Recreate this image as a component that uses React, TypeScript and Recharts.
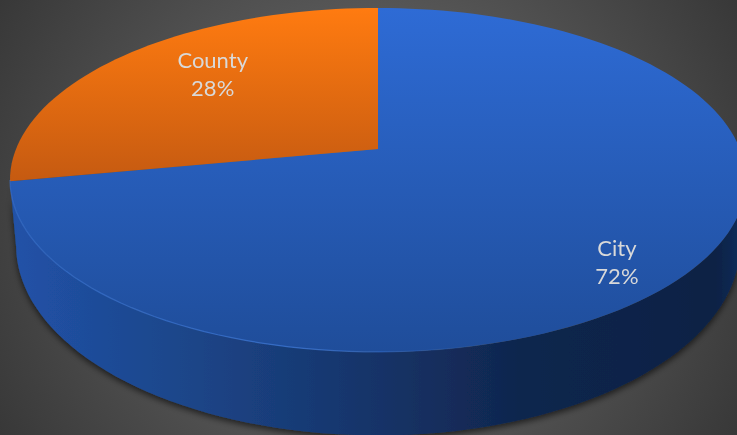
import { PieChart, Pie } from 'recharts'

const categories = ['City', 'County']
const shares = [72, 28]

const data = categories.map((name, i) => ({ name, value: shares[i] }))

const WIDTH = 737
const HEIGHT = 435
const CX = 378
const CY = 149
const RADIUS = 362

// the disc is tilted: far edge is squeezed, near edge is stretched
const TILT = 0.18
const TOP_FACE = { cy: CY, rx: RADIUS, ry: 166.4 }
const BOTTOM_FACE = { cy: 211, rx: 356, ry: 184 }
const SILHOUETTE = (Math.asin(TILT) * 180) / Math.PI

const LABEL_SPOT: Record<string, { r: number; dx: number; dy: number }> = {
  City: { r: 0.78, dx: 0, dy: 22 },
  County: { r: 0.64, dx: 1, dy: -12 },
}

const project = (angle: number, r: number, face: typeof TOP_FACE, cx: number) => {
  const a = (angle * Math.PI) / 180
  const u = r * Math.cos(a)
  const v = r * Math.sin(a)
  const w = 1 + TILT * v
  return [cx + (face.rx * u) / w, face.cy - (face.ry * v) / w]
}

const arc = (from: number, to: number, face: typeof TOP_FACE, cx: number) => {
  const pts: string[] = []
  const steps = Math.max(2, Math.ceil(Math.abs(to - from) / 2))
  for (let i = 0; i <= steps; i++) {
    const [x, y] = project(from + ((to - from) * i) / steps, 1, face, cx)
    pts.push(`${x.toFixed(2)} ${y.toFixed(2)}`)
  }
  return pts
}

const TiltedSector = (props: any) => {
  const { cx, startAngle, endAngle, index } = props
  const rimFrom = Math.min(startAngle, -SILHOUETTE)
  const rimTo = Math.max(endAngle, -180 + SILHOUETTE)
  const hasWall = rimFrom > rimTo
  const top = arc(startAngle, endAngle, TOP_FACE, cx)
  return (
    <g>
      {hasWall && (
        <path
          d={`M${arc(rimFrom, rimTo, TOP_FACE, cx).join('L')}L${arc(rimTo, rimFrom, BOTTOM_FACE, cx).join('L')}Z`}
          fill="url(#wallBlue)"
          filter="url(#wallShadow)"
        />
      )}
      <path
        d={`M${cx} ${CY}L${top.join('L')}Z`}
        fill={index === 0 ? 'url(#faceBlue)' : 'url(#faceOrange)'}
      />
      {hasWall && (
        <path d={`M${arc(rimFrom, rimTo, TOP_FACE, cx).join('L')}`} fill="none" stroke="url(#rimLight)" strokeWidth={1.2} />
      )}
    </g>
  )
}

const renderLabel = (props: any) => {
  const { cx, midAngle, name, percent } = props
  const spot = LABEL_SPOT[name]
  const [px, py] = project(midAngle, spot.r, TOP_FACE, cx)
  const x = px + spot.dx
  return (
    <text x={x} y={py + spot.dy} textAnchor="middle" fill="#d9d9d9" fontSize={22} fontFamily="Lato, 'Open Sans', sans-serif">
      <tspan x={x} dy={-6}>{name}</tspan>
      <tspan x={x} dy={28}>{`${Math.round(percent * 100)}%`}</tspan>
    </text>
  )
}

export default function App() {
  return (
    <div
      style={{
        position: 'fixed',
        left: 0,
        top: 0,
        width: WIDTH,
        height: HEIGHT,
        overflow: 'hidden',
        background: 'radial-gradient(circle 428px at 50% 50%, #727272 0%, #383838 100%)',
      }}
    >
      <PieChart width={WIDTH} height={HEIGHT} margin={{ top: 0, right: 0, bottom: 0, left: 0 }}>
        <defs>
          <linearGradient id="faceBlue" gradientUnits="userSpaceOnUse" x1="0" y1="8" x2="0" y2="352">
            <stop offset="0" stopColor="#2e6bd5" />
            <stop offset="1" stopColor="#1f4d9a" />
          </linearGradient>
          <linearGradient id="faceOrange" gradientUnits="userSpaceOnUse" x1="0" y1="8" x2="0" y2="182">
            <stop offset="0" stopColor="#ff7b10" />
            <stop offset="1" stopColor="#c55a11" />
          </linearGradient>
          <linearGradient id="wallBlue" gradientUnits="userSpaceOnUse" x1="10" y1="0" x2="737" y2="0">
            <stop offset="0" stopColor="#2152a8" />
            <stop offset="0.25" stopColor="#1c4588" />
            <stop offset="0.45" stopColor="#17376f" />
            <stop offset="0.7" stopColor="#10264e" />
            <stop offset="0.97" stopColor="#0e2244" />
            <stop offset="1" stopColor="#112a57" />
          </linearGradient>
          <linearGradient id="rimLight" gradientUnits="userSpaceOnUse" x1="10" y1="0" x2="500" y2="0">
            <stop offset="0" stopColor="#3b7ae0" stopOpacity={0.5} />
            <stop offset="0.6" stopColor="#3b7ae0" stopOpacity={0.7} />
            <stop offset="1" stopColor="#3b7ae0" stopOpacity={0} />
          </linearGradient>
          <filter id="wallShadow" x="-5%" y="-5%" width="110%" height="115%">
            <feDropShadow dx="0" dy="3" stdDeviation="3" floodColor="#000000" floodOpacity={0.6} />
          </filter>
        </defs>
        <Pie
          data={data}
          dataKey="value"
          nameKey="name"
          cx={CX}
          cy={CY}
          outerRadius={RADIUS}
          startAngle={90}
          endAngle={-270}
          stroke="none"
          shape={TiltedSector}
          label={renderLabel}
          labelLine={false}
          isAnimationActive={false}
        />
      </PieChart>
    </div>
  )
}
